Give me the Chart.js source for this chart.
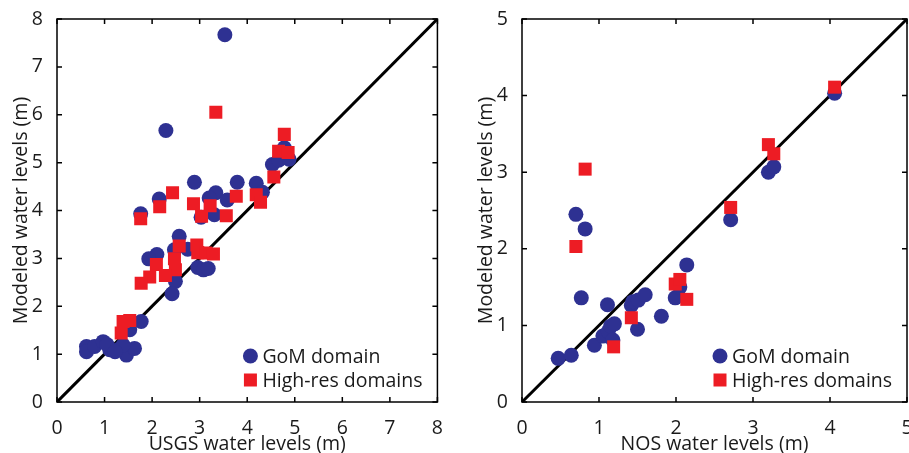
<!DOCTYPE html>
<html lang="en">
<head>
  <meta charset="UTF-8">
  <script src="https://cdn.jsdelivr.net/npm/chart.js"></script>
  <style>
    body {
      margin: 0;
      background: #fff;
      width: 909px;
      height: 453px;
      overflow: hidden;
      position: relative;
    }
    #usgsChart { position: absolute; left: 0; top: 0; }
    #nosChart { position: absolute; left: 460px; top: 0; }
  </style>
  <title>Modeled vs observed water levels</title>
</head>
<body>
  <canvas id="usgsChart" width="450" height="456"></canvas>
  <canvas id="nosChart" width="460" height="456"></canvas>
  <script>
    // left panel: USGS gauges
    const usgsGomX = [3.53, 2.29, 2.89, 2.15, 1.76, 3.34, 3.20, 3.58, 3.79, 4.19, 4.32, 3.31, 3.03, 4.53, 4.66, 4.78, 4.88,
      2.57, 2.47, 2.75, 2.10, 1.93, 2.96, 3.08, 3.18, 2.49, 2.42, 1.77, 1.53,
      0.62, 0.62, 0.79, 0.97, 1.11, 1.28, 1.46, 1.63, 1.39, 1.05, 1.22];
    const usgsGomY = [7.67, 5.67, 4.59, 4.24, 3.93, 4.37, 4.26, 4.22, 4.59, 4.57, 4.38, 3.91, 3.86, 4.96, 5.05, 5.31, 5.07,
      3.46, 3.18, 3.19, 3.08, 2.99, 2.81, 2.76, 2.79, 2.52, 2.26, 1.68, 1.51,
      1.16, 1.05, 1.16, 1.26, 1.09, 1.09, 0.98, 1.12, 1.19, 1.20, 1.05];
    const usgsHiresX = [3.34, 4.78, 4.66, 4.86, 4.56, 2.43, 2.87, 2.16, 3.22, 3.77, 4.19, 4.28, 3.04, 3.56, 1.76,
      2.57, 2.94, 2.96, 3.13, 3.29, 2.47, 2.49, 2.09, 1.95, 2.28, 1.77, 1.39, 1.53, 1.35];
    const usgsHiresY = [6.05, 5.59, 5.24, 5.21, 4.70, 4.37, 4.14, 4.08, 4.10, 4.30, 4.33, 4.17, 3.88, 3.89, 3.83,
      3.26, 3.28, 3.12, 3.11, 3.09, 2.99, 2.76, 2.87, 2.61, 2.64, 2.48, 1.68, 1.70, 1.44];

    // right panel: NOS gauges
    const nosGomX = [0.47, 0.64, 0.94, 1.05, 1.12, 1.15, 1.20, 1.18, 1.11, 0.77, 0.70, 0.82, 1.42, 1.44, 1.51, 1.60,
      1.50, 1.81, 1.99, 2.05, 2.14, 2.71, 3.20, 3.27, 4.06];
    const nosGomY = [0.57, 0.61, 0.74, 0.86, 0.92, 0.99, 1.02, 0.81, 1.27, 1.36, 2.45, 2.26, 1.26, 1.31, 1.33, 1.40,
      0.95, 1.12, 1.36, 1.50, 1.79, 2.38, 3.00, 3.07, 4.03];
    const nosHiresX = [0.82, 0.70, 1.19, 1.42, 1.99, 2.05, 2.14, 2.71, 3.20, 3.27, 4.06];
    const nosHiresY = [3.04, 2.03, 0.72, 1.10, 1.54, 1.60, 1.34, 2.54, 3.36, 3.24, 4.11];

    const usgsTicks = [0, 1, 2, 3, 4, 5, 6, 7, 8];
    const nosTicks = [0, 1, 2, 3, 4, 5];
    const seriesNames = ['GoM domain', 'High-res domains'];

    const FONT = "'Open Sans', sans-serif";
    const BLUE = '#2e3192';
    const RED = '#ed1c24';

    function toPoints(xs, ys) {
      return xs.map((x, i) => ({ x: x, y: ys[i] }));
    }

    // MATLAB style box with inward ticks on all four sides
    const boxTicks = {
      id: 'boxTicks',
      afterDraw(chart) {
        const { ctx, chartArea: a, scales } = chart;
        ctx.save();
        ctx.strokeStyle = '#000';
        ctx.lineWidth = 1.5;
        ctx.beginPath();
        scales.x.ticks.forEach(t => {
          const px = scales.x.getPixelForValue(t.value);
          ctx.moveTo(px, a.bottom); ctx.lineTo(px, a.bottom - 5);
          ctx.moveTo(px, a.top); ctx.lineTo(px, a.top + 5);
        });
        scales.y.ticks.forEach(t => {
          const py = scales.y.getPixelForValue(t.value);
          ctx.moveTo(a.left, py); ctx.lineTo(a.left + 5, py);
          ctx.moveTo(a.right, py); ctx.lineTo(a.right - 5, py);
        });
        ctx.stroke();
        ctx.strokeRect(a.left, a.top, a.right - a.left, a.bottom - a.top);
        ctx.restore();
      }
    };

    // legend in the lower right corner of the axes
    const cornerLegend = {
      id: 'cornerLegend',
      afterDraw(chart) {
        const { ctx, chartArea: a } = chart;
        const mx = a.right - 187;
        const y1 = a.bottom - 46;
        const y2 = a.bottom - 22;
        ctx.save();
        ctx.fillStyle = BLUE;
        ctx.beginPath();
        ctx.arc(mx, y1, 7.5, 0, Math.PI * 2);
        ctx.fill();
        ctx.fillStyle = RED;
        ctx.fillRect(mx - 6.5, y2 - 6.5, 13, 13);
        ctx.fillStyle = '#1a1a1a';
        ctx.font = '19.5px ' + FONT;
        ctx.textBaseline = 'middle';
        ctx.fillText(seriesNames[0], mx + 12, y1 + 1);
        ctx.fillText(seriesNames[1], mx + 12, y2 + 1);
        ctx.restore();
      }
    };

    function makeChart(id, gomX, gomY, hiresX, hiresY, ticks, xTitle, yAxisWidth, yTitlePad, rightPad) {
      const maxV = ticks[ticks.length - 1];
      new Chart(document.getElementById(id), {
        type: 'scatter',
        data: {
          datasets: [{
            label: '1:1',
            data: toPoints([0, maxV], [0, maxV]),
            showLine: true,
            borderColor: '#000',
            borderWidth: 3,
            pointRadius: 0,
            order: 3
          }, {
            label: seriesNames[0],
            data: toPoints(gomX, gomY),
            pointStyle: 'circle',
            pointRadius: 7.5,
            backgroundColor: BLUE,
            borderWidth: 0,
            order: 2
          }, {
            label: seriesNames[1],
            data: toPoints(hiresX, hiresY),
            pointStyle: 'rect',
            pointRadius: 9.2,
            backgroundColor: RED,
            borderWidth: 0,
            order: 1
          }]
        },
        options: {
          responsive: false,
          animation: false,
          layout: { padding: { top: 19, right: rightPad, left: 0, bottom: 0 } },
          plugins: { legend: { display: false }, tooltip: { enabled: false } },
          scales: {
            x: {
              min: 0, max: maxV,
              afterBuildTicks: s => { s.ticks = ticks.map(v => ({ value: v })); },
              afterFit: s => { s.height = 54; },
              grid: { display: false },
              border: { display: false },
              ticks: { color: '#1a1a1a', padding: 7, font: { family: FONT, size: 19.5 }, maxRotation: 0 },
              title: { display: true, text: xTitle, color: '#1a1a1a', padding: 0, font: { family: FONT, size: 19.5 } }
            },
            y: {
              min: 0, max: maxV,
              afterBuildTicks: s => { s.ticks = ticks.map(v => ({ value: v })); },
              afterFit: s => { s.width = yAxisWidth; },
              grid: { display: false },
              border: { display: false },
              ticks: { color: '#1a1a1a', padding: 6, font: { family: FONT, size: 19.5 } },
              title: { display: true, text: 'Modeled water levels (m)', color: '#1a1a1a', padding: { top: yTitlePad, bottom: 0 }, font: { family: FONT, size: 19.5 } }
            }
          }
        },
        plugins: [boxTicks, cornerLegend]
      });
    }

    makeChart('usgsChart', usgsGomX, usgsGomY, usgsHiresX, usgsHiresY, usgsTicks, 'USGS water levels (m)', 57, 10, 11);
    makeChart('nosChart', nosGomX, nosGomY, nosHiresX, nosHiresY, nosTicks, 'NOS water levels (m)', 62, 15, 13);
  </script>
</body>
</html>
